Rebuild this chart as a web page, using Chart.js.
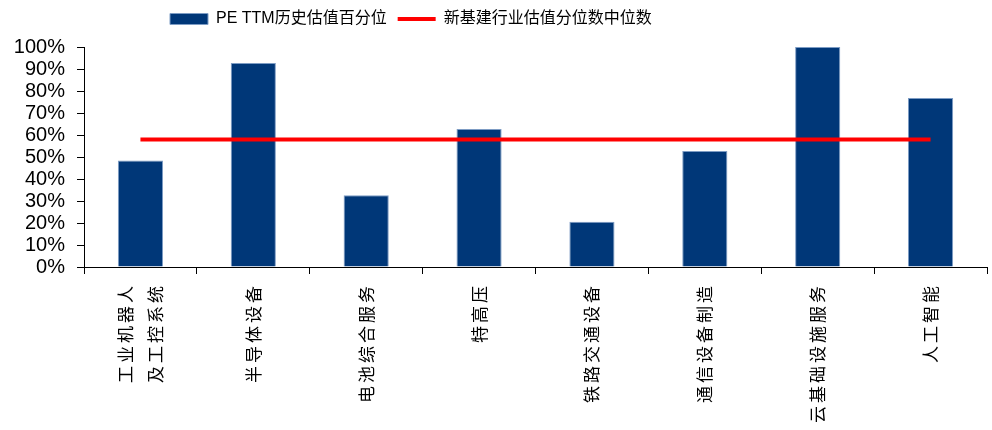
<!DOCTYPE html>
<html lang="zh">
<head>
    <meta charset="UTF-8">
    <script src="https://cdn.jsdelivr.net/npm/chart.js"></script>
    <style>
        body { margin: 0; background: #fff; }
        #wrap { width: 992px; height: 430px; }
    </style>
</head>
<body>
    <div id="wrap"><canvas id="chart"></canvas></div>

    <script>
        const categories = [
            ['工业机器人', '及工控系统'],
            '半导体设备',
            '电池综合服务',
            '特高压',
            '铁路交通设备',
            '通信设备制造',
            '云基础设施服务',
            '人工智能'
        ];
        const pePercentile = [48.4, 92.7, 32.6, 62.7, 20.6, 52.7, 100, 76.8];
        const medianValue = 58;
        const medianLine = categories.map(() => medianValue);
        const yTicks = [0, 10, 20, 30, 40, 50, 60, 70, 80, 90, 100];

        Chart.defaults.color = '#000';

        // x labels: wide letter spacing, two-line label centred on its tick
        const spacedLabels = {
            id: 'spacedLabels',
            beforeDraw(chart) {
                const x = chart.scales.x;
                if (x._spaced) return;
                const orig = x.drawLabels;
                x.drawLabels = function (area) {
                    this.getLabelItems(area).forEach(item => {
                        if (Array.isArray(item.label) && !item._moved) {
                            item.textOffset -= (item.label.length - 1) * item.font.lineHeight / 2;
                            item._moved = true;
                        }
                    });
                    const ctx = this.ctx;
                    ctx.save();
                    ctx.letterSpacing = '3px';
                    orig.call(this, area);
                    ctx.restore();
                    ctx.letterSpacing = '0px';
                };
                x._spaced = true;
            }
        };

        // legend sits left of centre and a bit taller in the reference
        const shiftLegend = {
            id: 'shiftLegend',
            beforeLayout(chart) {
                const lg = chart.legend;
                if (lg._patched) return;
                const fit = lg.fit;
                lg.fit = function () {
                    fit.call(this);
                    this.height += 10;
                };
                lg._patched = true;
            },
            afterLayout(chart) {
                const lg = chart.legend;
                const dx = 170 - (lg.left + lg.options.labels.padding);
                lg.left += dx;
                lg.right += dx;
            }
        };

        const ctx = document.getElementById('chart').getContext('2d');
        new Chart(ctx, {
            data: {
                labels: categories,
                datasets: [{
                    type: 'bar',
                    label: 'PE TTM历史估值百分位',
                    data: pePercentile,
                    backgroundColor: '#003778',
                    borderColor: '#7d9cc4',
                    borderWidth: 1,
                    barPercentage: 0.4,
                    categoryPercentage: 1,
                    order: 1
                }, {
                    type: 'line',
                    label: '新基建行业估值分位数中位数',
                    data: medianLine,
                    borderColor: '#ff0000',
                    backgroundColor: '#ff0000',
                    borderWidth: 4,
                    pointRadius: 0,
                    order: 0
                }]
            },
            options: {
                responsive: true,
                maintainAspectRatio: false,
                animation: false,
                layout: { padding: { right: 5 } },
                plugins: {
                    tooltip: { enabled: false },
                    legend: {
                        position: 'top',
                        align: 'start',
                        labels: {
                            usePointStyle: true,
                            pointStyleWidth: 38,
                            boxHeight: 11,
                            padding: 11,
                            font: { family: '"Liberation Sans", "Noto Sans CJK SC"', size: 16 },
                            sort: (a, b) => a.datasetIndex - b.datasetIndex,
                            generateLabels(chart) {
                                const items = Chart.defaults.plugins.legend.labels.generateLabels(chart);
                                items.forEach(it => {
                                    it.pointStyle = chart.data.datasets[it.datasetIndex].type === 'line' ? 'line' : 'rect';
                                });
                                return items;
                            }
                        }
                    }
                },
                scales: {
                    x: {
                        offset: true,
                        grid: {
                            offset: true,
                            drawOnChartArea: false,
                            color: '#000',
                            tickLength: 7
                        },
                        border: { color: '#000' },
                        ticks: {
                            autoSkip: false,
                            minRotation: 90,
                            maxRotation: 90,
                            padding: 9,
                            font: { family: '"Noto Sans CJK SC"', size: 17, lineHeight: 1.75 }
                        },
                        afterFit(scale) { scale.height = 163; }
                    },
                    y: {
                        min: 0,
                        max: 100,
                        afterBuildTicks(scale) {
                            scale.ticks = yTicks.map(v => ({ value: v }));
                        },
                        grid: {
                            drawOnChartArea: false,
                            color: '#000',
                            tickLength: 7
                        },
                        border: { color: '#000' },
                        ticks: {
                            autoSkip: false,
                            padding: 12,
                            callback: v => v + '%',
                            font: { family: '"Liberation Sans", Arial', size: 20 }
                        },
                        afterFit(scale) { scale.width = 84; }
                    }
                }
            },
            plugins: [spacedLabels, shiftLegend]
        });
    </script>
</body>
</html>
